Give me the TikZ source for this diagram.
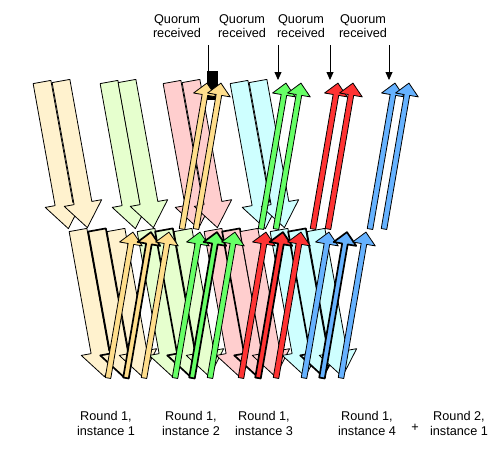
\documentclass[tikz,border=0pt]{standalone}
\usepackage{fontspec}
\setmainfont{Liberation Sans}
\usetikzlibrary{arrows.meta,positioning}

\definecolor{creamfill}{RGB}{255,242,206}
\definecolor{limefill}{RGB}{230,255,206}
\definecolor{pinkfill}{RGB}{255,206,206}
\definecolor{cyanfill}{RGB}{206,255,255}
\definecolor{tanfill}{RGB}{255,222,140}
\definecolor{greenfill}{RGB}{102,255,102}
\definecolor{redfill}{RGB}{255,51,51}
\definecolor{bluefill}{RGB}{102,178,255}

\begin{document}
\begin{tikzpicture}[
    x=1pt, y=-1pt, % 以像素為單位, y 向下
    font=\fontsize{12.7}{14.6}\selectfont, % 標籤字體
    >={Triangle[length=8pt, width=7pt]}, % 設定箭頭樣式
    line join=round,
    % --- 箭頭形狀 ---
    % 寬箭頭 (向下)
    wide arrow/.pic={
        \path[pic actions] (-9,0) -- (9,0) -- (9,124) -- (19,124) -- (0,149)
            -- (-19,124) -- (-9,124) -- cycle;
    },
    % 細箭頭 (向上)
    thin arrow/.pic={
        \path[pic actions] (-2.8,0) -- (-2.8,-136) -- (-11.5,-136) -- (0,-148)
            -- (11.5,-136) -- (2.8,-136) -- (2.8,0) -- cycle;
    },
    % --- 樣式定義 ---
    down msg/.style={draw=black, line width=0.8pt, rotate=10.2},
    up msg/.style={draw=black, line width=0.8pt, rotate=-9.7},
    heavy edge/.style={line width=1.7pt},
    % 彩色填充
    cream msg/.style={down msg, fill=creamfill},
    lime msg/.style={down msg, fill=limefill},
    pink msg/.style={down msg, fill=pinkfill},
    cyan msg/.style={down msg, fill=cyanfill},
    tan ack/.style={up msg, fill=tanfill},
    green ack/.style={up msg, fill=greenfill},
    red ack/.style={up msg, fill=redfill},
    blue ack/.style={up msg, fill=bluefill},
    % 文字標籤
    quorum label/.style={align=center, inner sep=0pt},
    round label/.style={align=center, inner sep=0pt, font=\fontsize{12.7}{15}\selectfont},
    quorum arrow/.style={->, line width=0.8pt}
]
    \useasboundingbox (0,0) rectangle (498,453);

    % ====== 上排:寬箭頭 ======
    \pic[cream msg] at (42,82) {wide arrow};
    \pic[cream msg] at (61,81) {wide arrow};
    \pic[lime msg] at (109,82) {wide arrow};
    \pic[lime msg] at (127,81) {wide arrow};
    \pic[pink msg] at (172,82) {wide arrow};
    \pic[pink msg] at (191,81) {wide arrow};
    \pic[cyan msg] at (239,82) {wide arrow};
    \pic[cyan msg] at (258,81) {wide arrow};

    % 黑色方塊 (在細箭頭後面)
    \fill[black] (207,71) rectangle (218,100);

    % ====== 上排:細箭頭 ======
    \pic[tan ack] at (182,229) {thin arrow};
    \pic[tan ack] at (196,229) {thin arrow};
    \pic[green ack] at (261,229) {thin arrow};
    \pic[green ack] at (276,229) {thin arrow};
    \pic[red ack] at (313,229) {thin arrow};
    \pic[red ack] at (328,229) {thin arrow};
    \pic[blue ack] at (370,229) {thin arrow};
    \pic[blue ack] at (384,229) {thin arrow};

    % ====== 下排:寬箭頭 ======
    \pic[cream msg] at (78,230) {wide arrow};
    \pic[cream msg, heavy edge] at (97,230) {wide arrow};
    \pic[cream msg] at (116,230) {wide arrow};
    \pic[lime msg] at (146,230) {wide arrow};
    \pic[lime msg, heavy edge] at (164,230) {wide arrow};
    \pic[lime msg] at (183,230) {wide arrow};
    \pic[pink msg] at (213,230) {wide arrow};
    \pic[pink msg, heavy edge] at (231,230) {wide arrow};
    \pic[pink msg] at (249,230) {wide arrow};
    \pic[cyan msg] at (279,230) {wide arrow};
    \pic[cyan msg, heavy edge] at (297,230) {wide arrow};
    \pic[cyan msg] at (316,230) {wide arrow};

    % ====== 下排:細箭頭 ======
    \pic[tan ack] at (108,378) {thin arrow};
    \pic[tan ack, heavy edge] at (126,378) {thin arrow};
    \pic[tan ack] at (144,378) {thin arrow};
    \pic[green ack] at (175,378) {thin arrow};
    \pic[green ack, heavy edge] at (192,378) {thin arrow};
    \pic[green ack] at (210,378) {thin arrow};
    \pic[red ack] at (241,378) {thin arrow};
    \pic[red ack, heavy edge] at (258,378) {thin arrow};
    \pic[red ack] at (276,378) {thin arrow};
    \pic[blue ack] at (304,378) {thin arrow};
    \pic[blue ack, heavy edge] at (322,378) {thin arrow};
    \pic[blue ack] at (341,378) {thin arrow};

    % ====== Quorum received 標籤 ======
    \node[quorum label] (q1) at (177,26) {Quorum\\received};
    \node[quorum label] (q2) at (242,26) {Quorum\\received};
    \node[quorum label] (q3) at (301,26) {Quorum\\received};
    \node[quorum label] (q4) at (363,26) {Quorum\\received};

    \coordinate (q1 from) at (208,45);
    \coordinate (q1 to) at (208,72);
    \coordinate (q2 from) at (278,45);
    \coordinate (q2 to) at (278,80);
    \coordinate (q3 from) at (330,45);
    \coordinate (q3 to) at (330,80);
    \coordinate (q4 from) at (389,45);
    \coordinate (q4 to) at (389,80);

    \draw[line width=0.8pt] (q1 from) -- (q1 to);
    \draw[quorum arrow] (q2 from) -- (q2 to);
    \draw[quorum arrow] (q3 from) -- (q3 to);
    \draw[quorum arrow] (q4 from) -- (q4 to);

    % ====== 底部標籤 ======
    \node[round label] (r1) at (106,423) {Round 1,\\instance 1};
    \node[round label] (r2) at (191,423) {Round 1,\\instance 2};
    \node[round label] (r3) at (264,423) {Round 1,\\instance 3};
    \node[round label] (r4) at (367,423) {Round 1,\\instance 4};
    \node[inner sep=0pt] (plus) at (415,428) {+};
    \node[round label] (r5) at (459,423) {Round 2,\\instance 1};

\end{tikzpicture}
\end{document}
